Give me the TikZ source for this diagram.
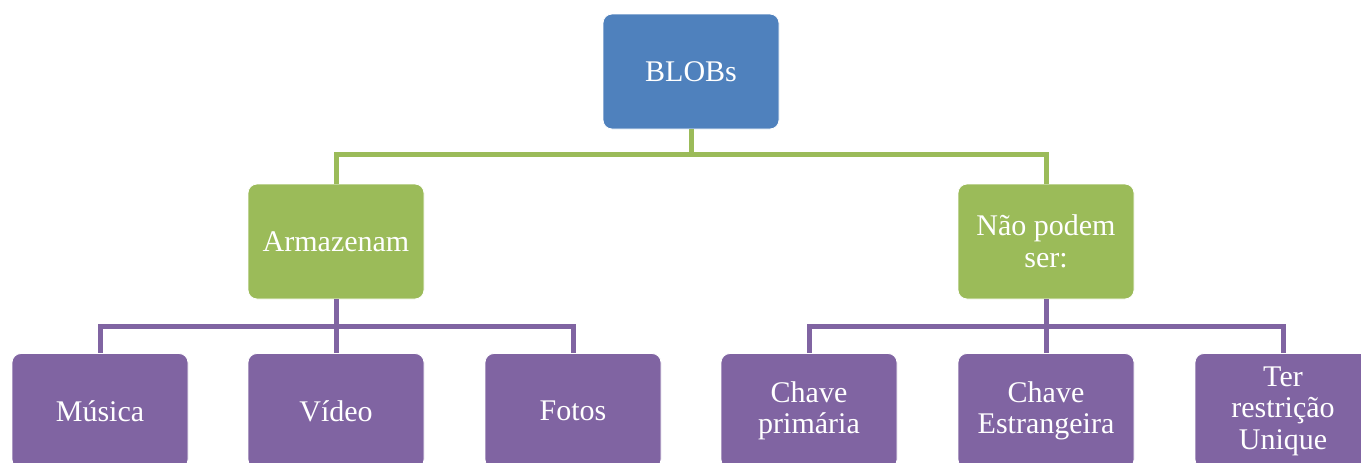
\documentclass[tikz,border=0pt]{standalone}
\usepackage{fontspec}
\setmainfont{Liberation Serif}
\definecolor{cblue}{HTML}{4F81BD}
\definecolor{cgreen}{HTML}{9BBB59}
\definecolor{cpurple}{HTML}{8064A2}
\begin{document}
\begin{tikzpicture}[x=1pt,y=-1pt,
  box/.style={rectangle, rounded corners=9pt, draw=white, line width=0.8pt,
    minimum width=176pt, minimum height=115pt, text=white, align=center,
    font=\fontsize{30}{31.5}\selectfont, inner sep=2pt},
  bluebox/.style={box, fill=cblue},
  greenbox/.style={box, fill=cgreen},
  purplebox/.style={box, fill=cpurple},
  gline/.style={draw=cgreen, line width=5pt},
  pline/.style={draw=cpurple, line width=5pt}]
\useasboundingbox (0,0) rectangle (1361,463);
\node[bluebox] (blobs) at (691,71.5) {BLOBs};
\node[greenbox] (arm) at (336,241.5) {Armazenam};
\node[greenbox] (nao) at (1046,241.5) {Não podem\\ser:};
\node[purplebox] (mus) at (100,411) {Música};
\node[purplebox] (vid) at (336,411) {Vídeo};
\node[purplebox] (fot) at (573,411) {Fotos};
\node[purplebox] (cp) at (809,411) {Chave\\primária};
\node[purplebox] (ce) at (1046,411) {Chave\\Estrangeira};
\node[purplebox] (tr) at (1283,411) {Ter\\restrição\\Unique};
\draw[gline] (blobs.south) -- ++(0,25) -| (arm.north);
\draw[gline] (blobs.south) -- ++(0,25) -| (nao.north);
\foreach \t in {mus,vid,fot} \draw[pline] (arm.south) -- ++(0,27) -| (\t.north);
\foreach \t in {cp,ce,tr} \draw[pline] (nao.south) -- ++(0,27) -| (\t.north);
\end{tikzpicture}
\end{document}
